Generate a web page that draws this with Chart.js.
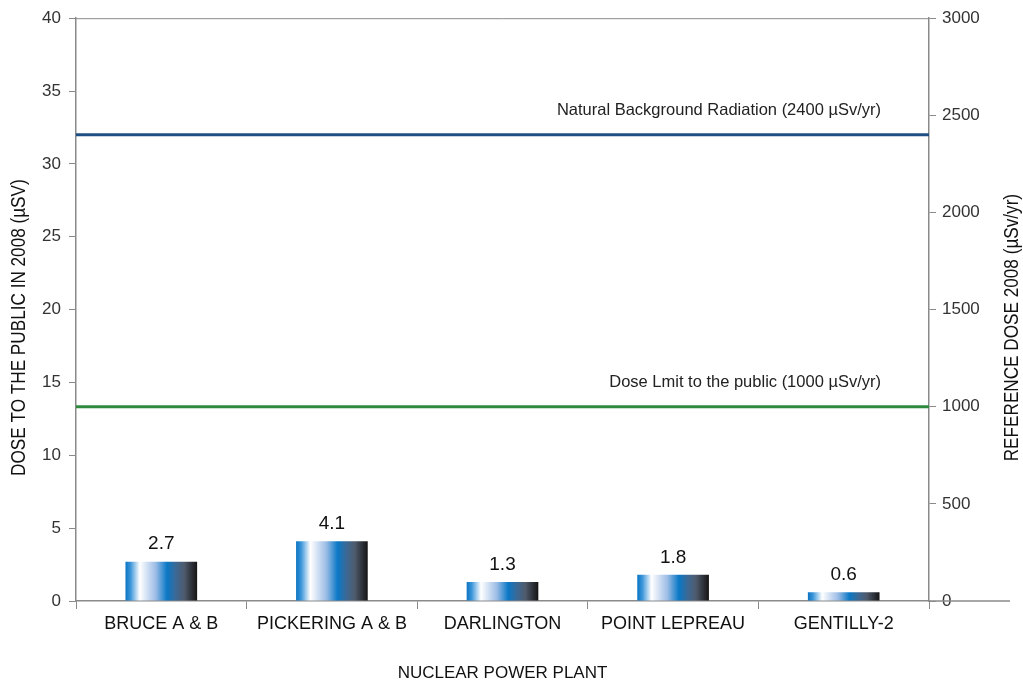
<!DOCTYPE html>
<html>
<head>
<meta charset="utf-8">
<script src="https://cdn.jsdelivr.net/npm/chart.js@4.4.0/dist/chart.umd.min.js"></script>
<style>
  html, body { margin: 0; padding: 0; background: #fff; }
</style>
</head>
<body>
<canvas id="doseChart" width="1023" height="684"></canvas>
<script>
const plants = ['BRUCE A & B', 'PICKERING A & B', 'DARLINGTON', 'POINT LEPREAU', 'GENTILLY-2'];
const doses = [2.7, 4.1, 1.3, 1.8, 0.6];
const refValues = [2400, 1000];
const refLabels = ['Natural Background Radiation (2400 \u00b5Sv/yr)', 'Dose Lmit to the public (1000 \u00b5Sv/yr)'];
const refColors = ['#1f4e84', '#2e8b3e'];
const leftTitle = 'DOSE TO THE PUBLIC IN 2008 (\u00b5SV)';
const rightTitle = 'REFERENCE DOSE 2008 (\u00b5Sv/yr)';

const CHART = document.getElementById('doseChart');
const sans = '"Liberation Sans", sans-serif';
const axisGray = '#8a8a8a';

// horizontal gradient for each bar, worked out from the x scale
function barGradient(ctx) {
  const chart = ctx.chart;
  const xs = chart.scales.x;
  if (!xs || ctx.dataIndex === undefined) return '#0a7ac8';
  const cx = xs.getPixelForValue(ctx.dataIndex);
  const w = xs.width / plants.length * 0.42;
  if (!isFinite(cx) || !isFinite(w) || w <= 0) return '#0a7ac8';
  const g = chart.ctx.createLinearGradient(cx - w / 2, 0, cx + w / 2, 0);
  g.addColorStop(0, '#0a74c2');
  g.addColorStop(0.07, '#3b95da');
  g.addColorStop(0.2, '#ffffff');
  g.addColorStop(0.42, '#9dbde6');
  g.addColorStop(0.58, '#0a78c6');
  g.addColorStop(0.7, '#3b6996');
  g.addColorStop(0.82, '#4f5a6c');
  g.addColorStop(1, '#141414');
  return g;
}

const refLines = {
  id: 'refLines',
  afterDatasetsDraw(chart) {
    const c = chart.ctx;
    const area = chart.chartArea;
    const y2 = chart.scales.y2;
    c.save();
    refValues.forEach((v, i) => {
      const y = y2.getPixelForValue(v);
      c.strokeStyle = refColors[i];
      c.lineWidth = 3;
      c.beginPath();
      c.moveTo(area.left, y);
      c.lineTo(area.right, y);
      c.stroke();
      c.fillStyle = '#222';
      c.font = '16.5px ' + sans;
      c.textAlign = 'right';
      c.textBaseline = 'middle';
      c.fillText(refLabels[i], area.right - 48, y - 24);
    });
    c.restore();
  }
};

const valueLabels = {
  id: 'valueLabels',
  afterDatasetsDraw(chart) {
    const c = chart.ctx;
    const meta = chart.getDatasetMeta(0);
    c.save();
    c.fillStyle = '#111';
    c.font = '19px ' + sans;
    c.textAlign = 'center';
    c.textBaseline = 'bottom';
    meta.data.forEach((bar, i) => {
      c.fillText(doses[i].toFixed(1), bar.x, bar.y - 8);
    });
    c.restore();
  }
};

// frame top, the x axis running on past the right axis, and the two y titles
const frame = {
  id: 'frame',
  beforeDatasetsDraw(chart) {
    const c = chart.ctx;
    const area = chart.chartArea;
    c.save();
    c.strokeStyle = axisGray;
    c.lineWidth = 1;
    c.beginPath();
    c.moveTo(area.left, area.top + 0.5);
    c.lineTo(area.right, area.top + 0.5);
    c.stroke();
    c.lineWidth = 1.5;
    c.beginPath();
    c.moveTo(area.right, area.bottom);
    c.lineTo(area.right + 81, area.bottom);
    c.stroke();
    c.restore();
  },
  afterDraw(chart) {
    const c = chart.ctx;
    const area = chart.chartArea;
    const mid = (area.top + area.bottom) / 2 + 18;
    c.save();
    c.fillStyle = '#111';
    c.font = '19.5px ' + sans;
    c.textAlign = 'center';
    c.textBaseline = 'middle';
    [[20, leftTitle], [1013, rightTitle]].forEach(([x, t]) => {
      c.save();
      c.translate(x, mid);
      c.rotate(-Math.PI / 2);
      c.scale(0.88, 1);
      c.fillText(t, 0, 0);
      c.restore();
    });
    c.restore();
  }
};

let doseChart = new Chart(CHART, {
  type: 'bar',
  data: {
    labels: plants,
    datasets: [{
      label: 'Dose to the public 2008',
      data: doses,
      backgroundColor: barGradient,
      barPercentage: 1,
      categoryPercentage: 0.42,
      yAxisID: 'y'
    }]
  },
  options: {
    responsive: false,
    animation: false,
    layout: { padding: { top: 17, left: 0, right: 0, bottom: 0 } },
    plugins: {
      legend: { display: false },
      tooltip: { enabled: false }
    },
    scales: {
      x: {
        offset: true,
        grid: {
          offset: true,
          drawOnChartArea: false,
          color: axisGray,
          tickLength: 8
        },
        border: { color: axisGray, width: 1.5 },
        ticks: {
          color: '#111',
          font: { family: sans, size: 18 },
          maxRotation: 0,
          padding: 4
        },
        title: {
          display: true,
          text: 'NUCLEAR POWER PLANT',
          color: '#111',
          font: { family: sans, size: 17 },
          padding: { top: 29, bottom: 0 }
        },
        afterFit(scale) { scale.height = 83; }
      },
      y: {
        position: 'left',
        min: 0,
        max: 40,
        ticks: {
          stepSize: 5,
          color: '#333',
          font: { family: sans, size: 17 },
          padding: 8
        },
        grid: {
          drawOnChartArea: false,
          color: axisGray,
          tickLength: 7
        },
        border: { color: axisGray, width: 1.5 },
        afterFit(scale) { scale.width = 76; }
      },
      y2: {
        position: 'right',
        min: 0,
        max: 3000,
        ticks: {
          stepSize: 500,
          color: '#333',
          font: { family: sans, size: 17 },
          padding: 6,
          callback: (v) => String(v)
        },
        grid: {
          drawOnChartArea: false,
          color: axisGray,
          tickLength: 7
        },
        border: { color: axisGray, width: 1.5 },
        afterFit(scale) { scale.width = 94; }
      }
    }
  },
  plugins: [frame, refLines, valueLabels]
});
</script>
</body>
</html>
